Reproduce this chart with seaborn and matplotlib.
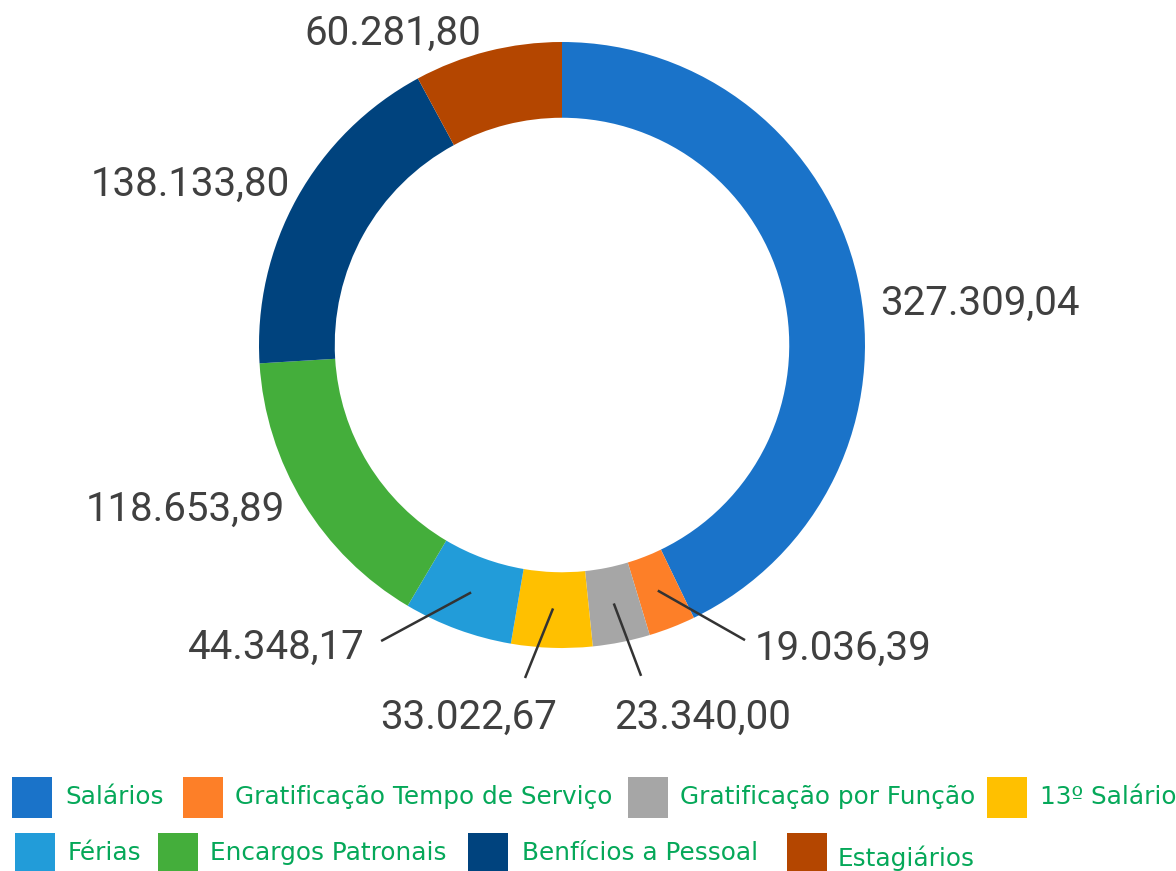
import numpy as np
import matplotlib.pyplot as plt
import matplotlib.patches as mpatches
import seaborn as sns

categories = ['Salários', 'Gratificação Tempo de Serviço', 'Gratificação por Função',
              '13º Salário', 'Férias', 'Encargos Patronais', 'Benfícios a Pessoal', 'Estagiários']
values = [327309.04, 19036.39, 23340.00, 33022.67, 44348.17, 118653.89, 138133.80, 60281.80]
value_labels = ['327.309,04', '19.036,39', '23.340,00', '33.022,67',
                '44.348,17', '118.653,89', '138.133,80', '60.281,80']
colors = ['#1a73c9', '#fd7f28', '#a6a6a6', '#ffc000', '#229cd9', '#44ae3b', '#00437e', '#b44600']

sns.set_theme(style='white')
plt.rcParams['font.family'] = ['DejaVu Sans']

W, H = 1176, 871
CX, CY, R = 562, 345, 303  # donut centre / radius in pixels

fig = plt.figure(figsize=(W / 100, H / 100), dpi=100)
ax = fig.add_axes([0, 0, 1, 1])

ax.pie(values, colors=sns.color_palette(colors), startangle=90, counterclock=False,
       radius=1, wedgeprops=dict(width=0.25, linewidth=0))
ax.set_xlim(-CX / R, (W - CX) / R)
ax.set_ylim((CY - H) / R, CY / R)
ax.set_aspect('equal')
ax.axis('off')

# label anchors (data units) and alignment; leader line end points where needed
label_pos = [(1.05, 0.139, 'left'), (0.637, -1.0, 'left'), (0.465, -1.228, 'center'),
             (-0.31, -1.228, 'center'), (-0.65, -0.997, 'right'), (-0.914, -0.541, 'right'),
             (-0.898, 0.531, 'right'), (-0.558, 1.03, 'center')]
leader_end = {1: (0.604, -0.974), 2: (0.261, -1.092), 3: (-0.122, -1.099), 4: (-0.597, -0.977)}

total = sum(values)
start = 90.0
for i, v in enumerate(values):
    sweep = 360.0 * v / total
    mid = np.deg2rad(start - sweep / 2)
    start -= sweep
    x, y, ha = label_pos[i]
    ax.text(x, y, value_labels[i], ha=ha, va='center', fontsize=29,
            color='#404040', family=['Roboto', 'DejaVu Sans'])
    if i in leader_end:
        ex, ey = leader_end[i]
        ax.plot([0.87 * np.cos(mid), ex], [0.87 * np.sin(mid), ey],
                color='#333333', lw=1.8, solid_capstyle='butt')

# legend laid out in two rows like the original
legend_layout = [(12, 65, 797), (183, 235, 797), (628, 680, 797), (987, 1040, 797),
                 (15, 68, 853), (158, 210, 853), (468, 522, 853), (787, 838, 858)]
for i, (sx, tx, ty) in enumerate(legend_layout):
    row_top = 777 if i < 4 else 833
    fig.patches.append(mpatches.Rectangle((sx / W, 1 - (row_top + 41) / H), 40 / W, 41 / H,
                                          transform=fig.transFigure, facecolor=colors[i],
                                          edgecolor='none'))
    fig.text(tx / W, 1 - ty / H, categories[i], ha='left', va='center',
             fontsize=17.8, color='#05a859')

fig.savefig('out.png', dpi=100)
